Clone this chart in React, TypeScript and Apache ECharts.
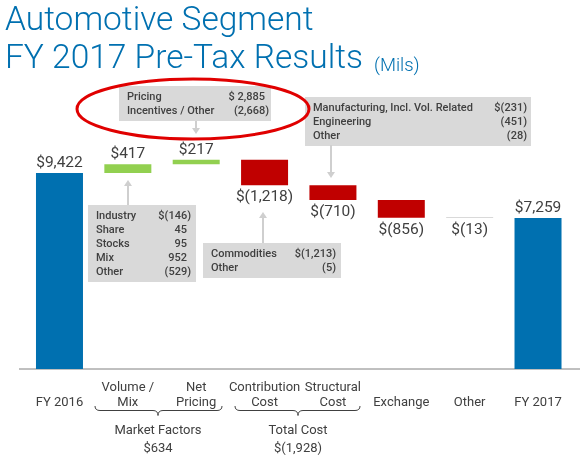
import React, { useEffect, useRef } from "react";
import * as echarts from "echarts";

const categories = [
  "FY 2016",
  "Volume /\nMix",
  "Net\nPricing",
  "Contribution\nCost",
  "Structural\nCost",
  "Exchange",
  "Other",
  "FY 2017",
];
const stepValues = [9422, 417, 217, -1218, -710, -856, -13, 7259];
const isTotal = [true, false, false, false, false, false, false, true];

const groupLabels = ["Market Factors", "Total Cost"];
const groupValues = [634, -1928];

const pricingItems = [
  ["Pricing", "$ 2,885"],
  ["Incentives / Other", "(2,668)"],
];
const structuralItems = [
  ["Manufacturing, Incl. Vol. Related", "$(231)"],
  ["Engineering", "(451)"],
  ["Other", "(28)"],
];
const volumeMixItems = [
  ["Industry", "$(146)"],
  ["Share", "45"],
  ["Stocks", "95"],
  ["Mix", "952"],
  ["Other", "(529)"],
];
const contributionItems = [
  ["Commodities", "$(1,213)"],
  ["Other", "(5)"],
];

const COND = "Roboto, sans-serif";
const TXT = "#404040";
const BOXFONT = "500 11px Roboto, sans-serif";

function fmtMoney(v: number) {
  const s = Math.abs(v).toLocaleString("en-US");
  return v < 0 ? "$(" + s + ")" : "$" + s;
}

function callout(x: number, y: number, w: number, items: string[][], valueRight: number) {
  const lineH = 14;
  const h = 21 + (items.length - 1) * lineH;
  const children: any[] = [
    { type: "rect", shape: { x, y, width: w, height: h }, style: { fill: "#D9D9D9" } },
  ];
  items.forEach((it, i) => {
    const cy = y + 10.5 + i * lineH;
    children.push({
      type: "text",
      x: x + 8,
      y: cy,
      style: { text: it[0], fill: TXT, font: BOXFONT, align: "left", verticalAlign: "middle" },
    });
    const paren = it[1].endsWith(")");
    children.push({
      type: "text",
      x: paren ? valueRight : valueRight - 4,
      y: cy,
      style: { text: it[1], fill: TXT, font: BOXFONT, align: "right", verticalAlign: "middle" },
    });
  });
  return { type: "group", children };
}

function arrow(x: number, yFrom: number, yTo: number) {
  const dir = yTo > yFrom ? 1 : -1;
  const head = 6;
  return {
    type: "group",
    children: [
      { type: "line", shape: { x1: x, y1: yFrom, x2: x, y2: yTo - dir * head }, style: { stroke: "#CFCFCF", lineWidth: 2 } },
      {
        type: "polygon",
        shape: { points: [[x - 4, yTo - dir * head], [x + 4, yTo - dir * head], [x, yTo]] },
        style: { fill: "#CFCFCF" },
      },
    ],
  };
}

export default function App() {
  const ref = useRef<HTMLDivElement>(null);
  useEffect(() => {
    if (!ref.current) return;
    const chart = echarts.init(ref.current, null, { renderer: "svg", width: 580, height: 458 });

    const base: number[] = [];
    const heights: number[] = [];
    let run = 0;
    stepValues.forEach((v, i) => {
      if (isTotal[i]) {
        base.push(0);
        heights.push(v);
        run = v;
      } else {
        const next = run + v;
        base.push(Math.min(run, next));
        heights.push(Math.abs(v));
        run = next;
      }
    });

    const colorFor = (i: number) => {
      if (isTotal[i]) return "#0070B0";
      if (Math.abs(stepValues[i]) < 50) return "#D9D9D9";
      return stepValues[i] >= 0 ? "#92D050" : "#C00000";
    };

    echarts.graphic.registerShape(
      "brace1",
      echarts.graphic.extendPath(
        "M95,406 Q95,410.5 100,410.5 L153,410.5 Q158,410.5 158,415.5 Q158,410.5 163,410.5 L217,410.5 Q222,410.5 222,406",
        {}
      )
    );
    echarts.graphic.registerShape(
      "brace2",
      echarts.graphic.extendPath(
        "M235,406 Q235,410.5 240,410.5 L293,410.5 Q298,410.5 298,415.5 Q298,410.5 303,410.5 L355,410.5 Q360,410.5 360,406",
        {}
      )
    );

    const groupCenters = [158, 298];

    chart.setOption({
      animation: false,
      title: [
        {
          text: "Automotive Segment\nFY 2017 Pre-Tax Results",
          left: 5,
          top: 0,
          padding: 0,
          textStyle: { fontFamily: "Roboto, sans-serif", fontWeight: 300, fontSize: 33.5, lineHeight: 37.5, color: "#0070B0" },
        },
        {
          text: "(Mils)",
          left: 374,
          top: 56,
          padding: 0,
          textStyle: { fontFamily: "Roboto, sans-serif", fontWeight: 300, fontSize: 18.5, lineHeight: 18, color: "#0070B0" },
        },
      ],
      grid: { left: 25.3, right: 7.8, top: 119.4, bottom: 89 },
      xAxis: {
        type: "category",
        data: categories,
        axisLine: { show: false },
        axisTick: { show: false },
        axisLabel: {
          interval: 0,
          margin: 10,
          fontSize: 13,
          lineHeight: 15,
          color: TXT,
          fontFamily: COND,
          formatter: (v: string) => (v.includes("\n") ? v : "\n" + v),
        },
      },
      yAxis: { type: "value", min: 0, max: 12000, show: false, splitLine: { show: false } },
      series: [
        {
          type: "bar",
          stack: "w",
          barWidth: 47,
          silent: true,
          itemStyle: { color: "transparent" },
          data: base,
        },
        {
          type: "bar",
          stack: "w",
          barWidth: 47,
          barMinHeight: 1,
          data: heights.map((h, i) => ({
            value: h,
            itemStyle: { color: colorFor(i) },
            label: { position: stepValues[i] < 0 ? "bottom" : "top" },
          })),
          label: {
            show: true,
            distance: 3,
            fontSize: 15.5,
            color: TXT,
            fontFamily: COND,
            formatter: (p: any) => fmtMoney(stepValues[p.dataIndex]),
          },
        },
      ],
      graphic: [
        { type: "line", shape: { x1: 19, y1: 369, x2: 580, y2: 369 }, style: { stroke: "#808080", lineWidth: 1 } },
        callout(119, 86, 152, pricingItems, 269),
        arrow(196, 121, 134),
        callout(305, 97, 226, structuralItems, 527),
        arrow(331, 145, 178),
        callout(88, 205, 108, volumeMixItems, 191),
        arrow(128, 205, 180),
        callout(203, 243, 138, contributionItems, 336),
        arrow(263, 243, 212),
        { type: "brace1", x: 0, y: 0, style: { stroke: TXT, fill: "none", lineWidth: 1 } },
        { type: "brace2", x: 0, y: 0, style: { stroke: TXT, fill: "none", lineWidth: 1 } },
        ...groupLabels.map((g, i) => ({
          type: "text",
          x: groupCenters[i],
          y: 429,
          style: { text: g, fill: TXT, font: "13px " + COND, align: "center", verticalAlign: "middle" },
        })),
        ...groupValues.map((v, i) => ({
          type: "text",
          x: groupCenters[i],
          y: 447,
          style: { text: fmtMoney(v), fill: TXT, font: "13px " + COND, align: "center", verticalAlign: "middle" },
        })),
        {
          type: "ellipse",
          shape: { cx: 193, cy: 109, rx: 116, ry: 30 },
          style: { fill: "none", stroke: "#E00000", lineWidth: 3 },
          z: 100,
        },
      ],
    });
    return () => chart.dispose();
  }, []);
  return <div ref={ref} style={{ position: "fixed", left: 0, top: 0, width: 580, height: 458 }} />;
}
